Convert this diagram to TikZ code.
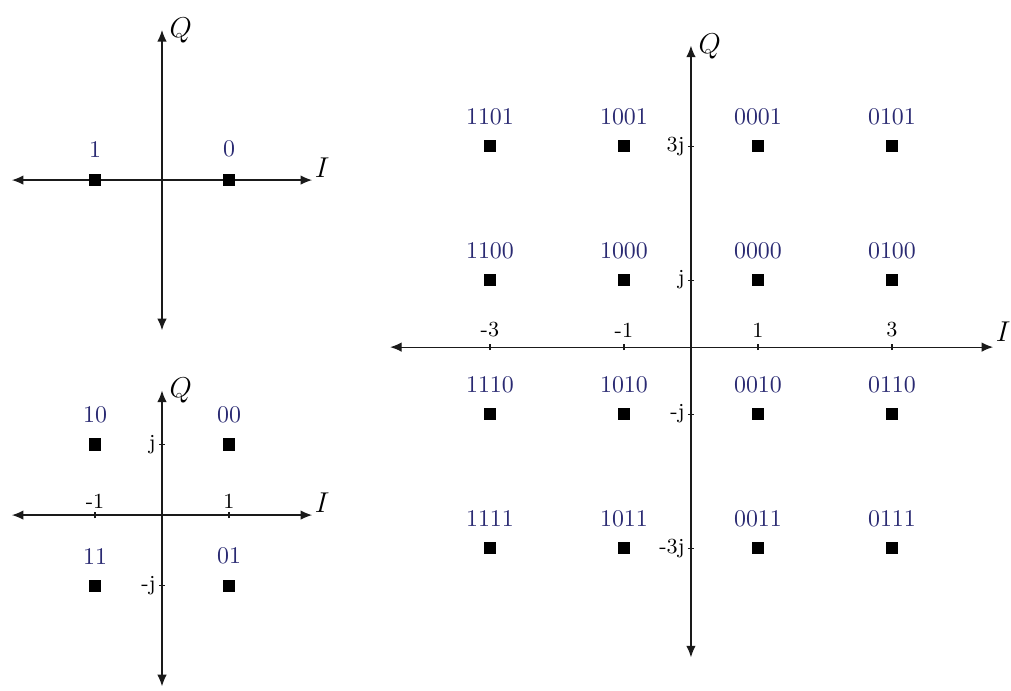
\documentclass[tikz,border=0pt]{standalone}
\usetikzlibrary{arrows.meta, positioning}
\definecolor{bitNavy}{HTML}{2A2A72}
\definecolor{axisDark}{HTML}{1A1A1A}
\tikzset{
  axisArrow/.style={{Latex[length=1.7mm, width=1.4mm]}-{Latex[length=1.7mm, width=1.4mm]},
                    draw=axisDark, line width=0.5pt},
  symPt/.style={rectangle, fill=black, minimum size=5.2pt, inner sep=0pt},
  bitLbl/.style={text=bitNavy, font=\normalsize, inner sep=2pt},
  tickLbl/.style={font=\small, inner sep=1pt},
  axLbl/.style={font=\large, inner sep=1pt},
  tickMk/.style={draw=axisDark, line width=0.5pt},
}

\begin{document}
\begin{tikzpicture}[x=0.985cm, y=0.985cm, font=\normalsize]
  \useasboundingbox (0,0) rectangle (15.09,10.30);

  % BPSK
  \begin{scope}[shift={(2.418,7.612)}]
    \coordinate (bpL) at (-2.24,0); \coordinate (bpR) at (2.24,0);
    \coordinate (bpB) at (0,-2.24); \coordinate (bpT) at (0,2.24);
    \draw[axisArrow] (bpL)--(bpR); \draw[axisArrow] (bpB)--(bpT);
    \node[axLbl, right=2pt of bpT, yshift=0pt] (bpQ) {$Q$};
    \node[axLbl, right=0pt of bpR, yshift=5pt] (bpI) {$I$};
    \node[symPt] (bp1) at (-1,0) {}; \node[bitLbl, above=4.6pt of bp1] (bpT1) {1};
    \node[symPt] (bp0) at (1,0) {};  \node[bitLbl, above=4.6pt of bp0] (bpT0) {0};
  \end{scope}

  % QPSK
  \begin{scope}[shift={(2.418,2.612)}, y=1.04cm]
    \coordinate (qpL) at (-2.24,0); \coordinate (qpR) at (2.24,0);
    \coordinate (qpB) at (0,-2.42); \coordinate (qpT) at (0,1.76);
    \draw[axisArrow] (qpL)--(qpR); \draw[axisArrow] (qpB)--(qpT);
    \node[axLbl, right=2pt of qpT, yshift=0pt] (qpQ) {$Q$};
    \node[axLbl, right=0pt of qpR, yshift=5pt] (qpI) {$I$};
    \draw[tickMk] (-1,-0.045)--(-1,0.045) (1,-0.045)--(1,0.045)
                  (-0.045,1)--(0.045,1) (-0.045,-1)--(0.045,-1);
    \node[tickLbl, above=1.5pt] (qpXm1) at (-1,0) {-1};
    \node[tickLbl, above=1.5pt] (qpXp1) at (1,0) {1};
    \node[tickLbl, left=1.5pt] (qpYp1) at (0,1) {j};
    \node[tickLbl, left=1.5pt] (qpYm1) at (0,-1) {-j};
    \node[symPt] (qp10) at (-1,1) {};  \node[bitLbl, above=4pt of qp10] (qpT10) {10};
    \node[symPt] (qp00) at (1,1) {};   \node[bitLbl, above=4pt of qp00] (qpT00) {00};
    \node[symPt] (qp11) at (-1,-1) {}; \node[bitLbl, above=4pt of qp11] (qpT11) {11};
    \node[symPt] (qp01) at (1,-1) {};  \node[bitLbl, above=4pt of qp01] (qpT01) {01};
  \end{scope}

  % 16-QAM
  \begin{scope}[shift={(10.313,5.119)}]
    \coordinate (qaL) at (-4.49,0); \coordinate (qaR) at (4.51,0);
    \coordinate (qaB) at (0,-4.63); \coordinate (qaT) at (0,4.5);
    \draw[axisArrow] (qaL)--(qaR); \draw[axisArrow] (qaB)--(qaT);
    \node[axLbl, right=2pt of qaT, yshift=-0.5pt] (qaQ) {$Q$};
    \node[axLbl, right=0pt of qaR, yshift=6.5pt] (qaI) {$I$};
    \draw[tickMk] (-3,-0.045)--(-3,0.045) (-1,-0.045)--(-1,0.045)
                  (1,-0.045)--(1,0.045) (3,-0.045)--(3,0.045)
                  (-0.045,3)--(0.045,3) (-0.045,1)--(0.045,1)
                  (-0.045,-1)--(0.045,-1) (-0.045,-3)--(0.045,-3);
    \node[tickLbl, above=3pt] (qaXm3) at (-3,0) {-3};
    \node[tickLbl, above=3pt] (qaXm1) at (-1,0) {-1};
    \node[tickLbl, above=3pt] (qaXp1) at (1,0) {1};
    \node[tickLbl, above=3pt] (qaXp3) at (3,0) {3};
    \node[tickLbl, left=1.5pt] (qaYp3) at (0,3) {3j};
    \node[tickLbl, left=1.5pt] (qaYp1) at (0,1) {j};
    \node[tickLbl, left=1.5pt] (qaYm1) at (0,-1) {-j};
    \node[tickLbl, left=1.5pt] (qaYm3) at (0,-3) {-3j};
    % row 3j
    \node[symPt] (qa1101) at (-3,3) {}; \node[bitLbl, above=4pt of qa1101] (qaT1101) {1101};
    \node[symPt] (qa1001) at (-1,3) {}; \node[bitLbl, above=4pt of qa1001] (qaT1001) {1001};
    \node[symPt] (qa0001) at (1,3) {};  \node[bitLbl, above=4pt of qa0001] (qaT0001) {0001};
    \node[symPt] (qa0101) at (3,3) {};  \node[bitLbl, above=4pt of qa0101] (qaT0101) {0101};
    % row j
    \node[symPt] (qa1100) at (-3,1) {}; \node[bitLbl, above=4pt of qa1100] (qaT1100) {1100};
    \node[symPt] (qa1000) at (-1,1) {}; \node[bitLbl, above=4pt of qa1000] (qaT1000) {1000};
    \node[symPt] (qa0000) at (1,1) {};  \node[bitLbl, above=4pt of qa0000] (qaT0000) {0000};
    \node[symPt] (qa0100) at (3,1) {};  \node[bitLbl, above=4pt of qa0100] (qaT0100) {0100};
    % row -j
    \node[symPt] (qa1110) at (-3,-1) {}; \node[bitLbl, above=4pt of qa1110] (qaT1110) {1110};
    \node[symPt] (qa1010) at (-1,-1) {}; \node[bitLbl, above=4pt of qa1010] (qaT1010) {1010};
    \node[symPt] (qa0010) at (1,-1) {};  \node[bitLbl, above=4pt of qa0010] (qaT0010) {0010};
    \node[symPt] (qa0110) at (3,-1) {};  \node[bitLbl, above=4pt of qa0110] (qaT0110) {0110};
    % row -3j
    \node[symPt] (qa1111) at (-3,-3) {}; \node[bitLbl, above=4pt of qa1111] (qaT1111) {1111};
    \node[symPt] (qa1011) at (-1,-3) {}; \node[bitLbl, above=4pt of qa1011] (qaT1011) {1011};
    \node[symPt] (qa0011) at (1,-3) {};  \node[bitLbl, above=4pt of qa0011] (qaT0011) {0011};
    \node[symPt] (qa0111) at (3,-3) {};  \node[bitLbl, above=4pt of qa0111] (qaT0111) {0111};
  \end{scope}
\end{tikzpicture}
\end{document}
